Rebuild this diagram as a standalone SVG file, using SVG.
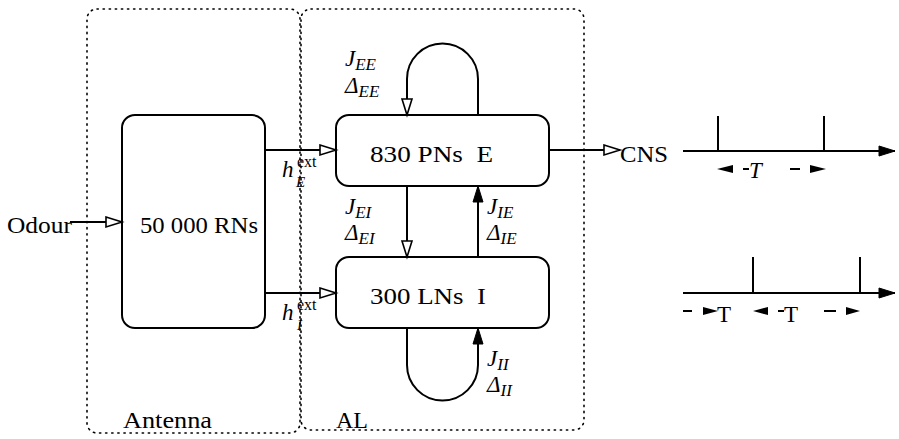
<svg xmlns="http://www.w3.org/2000/svg" width="899" height="439" viewBox="0 0 899 439">
<defs>
<style>
.t{font-family:"Liberation Serif","DejaVu Serif",serif;font-size:23px;fill:#000}
.m{font-family:"Liberation Serif","DejaVu Serif",serif;font-size:23px;font-style:italic;fill:#000}
.s{font-size:17px}
.sup{font-size:16px}
.sub{font-size:15px}
.box{fill:#fff;stroke:#000;stroke-width:2}
.dot{fill:none;stroke:#000;stroke-width:1.6;stroke-dasharray:1.3 4.8;stroke-linecap:round}
.c{fill:none;stroke:#000;stroke-width:2}
</style>
<marker id="open" markerUnits="userSpaceOnUse" markerWidth="18" markerHeight="12" refX="16" refY="5" orient="auto" overflow="visible">
<path d="M0,0 L16,5 L0,10 z" fill="#fff" stroke="#000" stroke-width="1.6"/>
</marker>
<marker id="fill" markerUnits="userSpaceOnUse" markerWidth="18" markerHeight="12" refX="16" refY="5" orient="auto" overflow="visible">
<path d="M0,0 L16,5 L0,10 z" fill="#000" stroke="#000" stroke-width="1"/>
</marker>
</defs>
<rect width="899" height="439" fill="#fff"/>

<g id="antenna">
<rect class="dot" x="87" y="9" width="213" height="424" rx="10"/>
<text class="t" x="123" y="428" textLength="89" lengthAdjust="spacingAndGlyphs">Antenna</text>
</g>
<g id="al">
<rect class="dot" x="301" y="9" width="283" height="421" rx="10"/>
<text class="t" x="336" y="428" textLength="32" lengthAdjust="spacingAndGlyphs">AL</text>
</g>

<g id="rns">
<rect class="box" x="122" y="115" width="143" height="213" rx="13"/>
<text class="t" x="140" y="233" textLength="118" lengthAdjust="spacingAndGlyphs">50 000 RNs</text>
</g>
<g id="pns">
<rect class="box" x="336" y="115" width="213" height="71" rx="13"/>
<text class="t" x="370" y="162" textLength="123" lengthAdjust="spacingAndGlyphs" xml:space="preserve">830 PNs  E</text>
</g>
<g id="lns">
<rect class="box" x="336" y="257" width="213" height="71" rx="13"/>
<text class="t" x="370" y="304" textLength="116" lengthAdjust="spacingAndGlyphs" xml:space="preserve">300 LNs  I</text>
</g>
<g id="odour">
<text class="t" x="7" y="233" textLength="65" lengthAdjust="spacingAndGlyphs">Odour</text>
</g>
<g id="cns">
<text class="t" x="620" y="162" textLength="48" lengthAdjust="spacingAndGlyphs">CNS</text>
</g>

<g id="connectors">
<line class="c" x1="70" y1="222" x2="122" y2="222" marker-end="url(#open)"/>
<line class="c" x1="265" y1="150" x2="336" y2="150" marker-end="url(#open)"/>
<line class="c" x1="265" y1="293" x2="336" y2="293" marker-end="url(#open)"/>
<line class="c" x1="549" y1="150" x2="620" y2="150" marker-end="url(#open)"/>
<path class="c" d="M478,115 L478,79 A35.5,35.5 0 0 0 407,79 L407,115" marker-end="url(#open)"/>
<line class="c" x1="407" y1="186" x2="407" y2="257" marker-end="url(#open)"/>
<line class="c" x1="478" y1="257" x2="478" y2="186" marker-end="url(#fill)"/>
<path class="c" d="M407,328 L407,365 A35.5,35.5 0 0 0 478,365 L478,328" marker-end="url(#fill)"/>
</g>

<g id="labels">
<text class="m" x="282" y="177">h</text>
<text class="t sup" x="297" y="167">ext</text>
<text class="m sub" x="296" y="187">E</text>
<text class="m" x="282" y="320">h</text>
<text class="t sup" x="297" y="310">ext</text>
<text class="m sub" x="297" y="330">I</text>
<text class="m" x="345" y="66">J<tspan class="s" dy="4">EE</tspan></text>
<text class="m" x="345" y="93">Δ<tspan class="s" dy="4">EE</tspan></text>
<text class="m" x="345" y="214">J<tspan class="s" dy="4">EI</tspan></text>
<text class="m" x="345" y="240">Δ<tspan class="s" dy="4">EI</tspan></text>
<text class="m" x="487" y="214">J<tspan class="s" dy="4">IE</tspan></text>
<text class="m" x="487" y="240">Δ<tspan class="s" dy="4">IE</tspan></text>
<text class="m" x="487" y="366">J<tspan class="s" dy="4">II</tspan></text>
<text class="m" x="487" y="392">Δ<tspan class="s" dy="4">II</tspan></text>
</g>

<g id="train1">
<line class="c" x1="683" y1="151" x2="895" y2="151" marker-end="url(#fill)"/>
<line class="c" x1="718" y1="116" x2="718" y2="151"/>
<line class="c" x1="824" y1="116" x2="824" y2="151"/>
<path d="M717,169 L733,165 L733,173 z" fill="#000"/>
<line class="c" x1="743" y1="169" x2="749" y2="169"/>
<text class="m" x="749" y="178">T</text>
<line class="c" x1="790" y1="169" x2="800" y2="169"/>
<path d="M826,169 L810,165 L810,173 z" fill="#000"/>
</g>

<g id="train2">
<line class="c" x1="683" y1="293" x2="895" y2="293" marker-end="url(#fill)"/>
<line class="c" x1="753" y1="257" x2="753" y2="293"/>
<line class="c" x1="860" y1="257" x2="860" y2="293"/>
<line class="c" x1="683" y1="311" x2="692" y2="311"/>
<path d="M718,311 L703,307 L703,315 z" fill="#000"/>
<text class="t" x="717" y="322">T</text>
<path d="M753,311 L768,307 L768,315 z" fill="#000"/>
<line class="c" x1="778" y1="311" x2="784" y2="311"/>
<text class="t" x="784" y="322">T</text>
<line class="c" x1="824" y1="311" x2="836" y2="311"/>
<path d="M860,311 L846,307 L846,315 z" fill="#000"/>
</g>
</svg>
